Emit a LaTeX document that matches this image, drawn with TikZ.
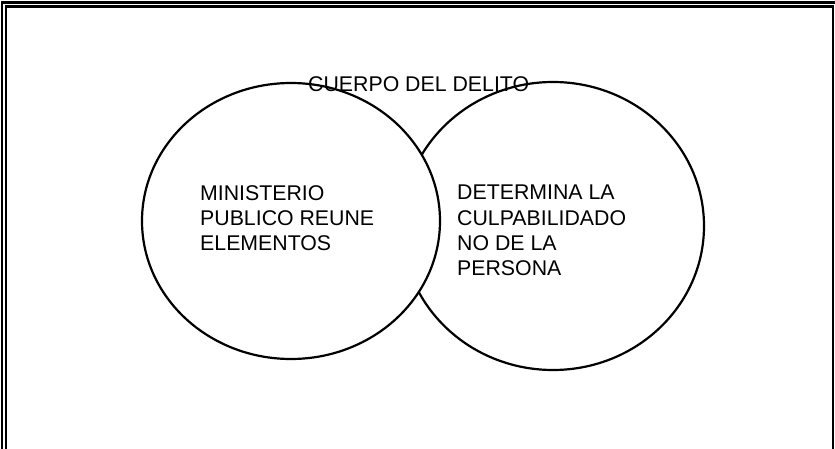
\documentclass[tikz,border=0pt]{standalone}
\usepackage{fontspec}
\setmainfont{Liberation Sans}
\usetikzlibrary{shapes.geometric}
\tikzset{
    frameline/.style={line width=2.2pt},
    ring/.style={ellipse, draw, line width=2.2pt, inner sep=0pt},
    label/.style={anchor=north west, inner sep=0pt, align=left, font=\fontsize{21.3}{25.3}\selectfont}
}
\begin{document}
\begin{tikzpicture}[x=1pt,y=-1pt]
        \useasboundingbox (0,0) rectangle (835,449);
        \clip (0,0) rectangle (835,449);
        % double frame
        \draw[frameline] (2,460) -- (2,2.5) -- (845,2.5);
        \draw[frameline] (6,460) -- (6,6.5) -- (833,6.5);
        \draw[line width=2.8pt] (833,5.5) -- (833,460);
        % the two circles, left one on top
        \node[ring, minimum width=302pt, minimum height=288pt] (juicio) at (553,226) {};
        \node[ring, fill=white, minimum width=298pt, minimum height=276pt] (ministerio) at (291,221) {};
        \node[label] (titulo) at (308,76) {CUERPO DEL DELITO};
        \node[label] (reune) at (200,185) {MINISTERIO\\PUBLICO REUNE\\ELEMENTOS};
        \node[label] (determina) at (457,185) {DETERMINA LA\\CULPABILIDADO\\NO DE LA\\PERSONA};
    \end{tikzpicture}
\end{document}
